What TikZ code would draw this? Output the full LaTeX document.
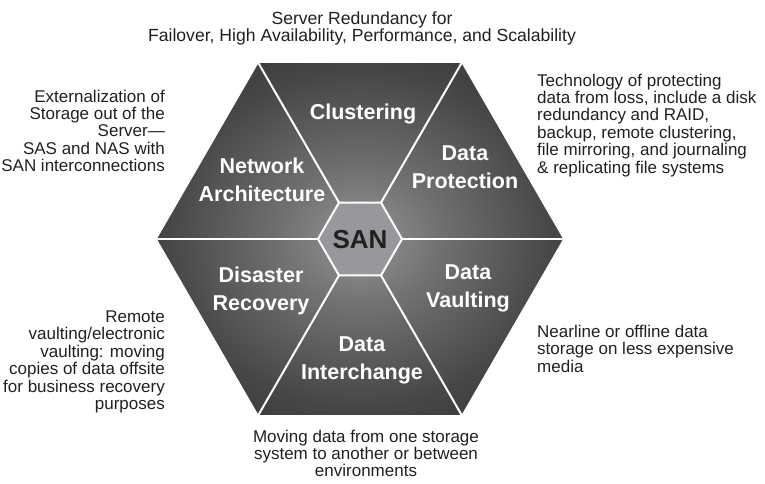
\documentclass[tikz,border=0pt]{standalone}
\usepackage{fontspec}
\setmainfont{Liberation Sans}
\usetikzlibrary{calc}
\definecolor{ink}{HTML}{231F20}
\definecolor{hexa}{HTML}{959595}
\definecolor{hexb}{HTML}{707070}
\definecolor{hexc}{HTML}{464646}
\definecolor{hexd}{HTML}{2D2D2D}
\definecolor{hexe}{HTML}{242424}
\definecolor{sanfill}{HTML}{97989B}
\pgfdeclareradialshading{hexshade}{\pgfpoint{0bp}{0bp}}{color(0bp)=(hexa); color(10bp)=(hexb); color(24bp)=(hexc); color(38bp)=(hexd); color(50bp)=(hexe)}
\tikzset{
  note/.style={font=\fontsize{17}{17.4}\selectfont, text=ink, inner sep=0pt},
  seg/.style={font=\bfseries\fontsize{21.5}{28}\selectfont, text=white, align=center, inner sep=0pt},
  spoke/.style={draw=white, line width=2pt},
}
\begin{document}
\begin{tikzpicture}[x=1pt,y=-1pt]
\useasboundingbox (0,0) rectangle (765,483);
\coordinate (c) at (360,239);
\foreach \a in {0,60,...,300} {
  \coordinate (o\a) at ($(c)+(\a:203)$);
  \coordinate (i\a) at ($(c)+(\a:42)$);
}
\path[shading=hexshade] (o0)--(o60)--(o120)--(o180)--(o240)--(o300)--cycle;
\foreach \a in {0,60,...,300} { \draw[spoke] (i\a) -- (o\a); }
\path[fill=sanfill, draw=white, line width=2pt] (i0)--(i60)--(i120)--(i180)--(i240)--(i300)--cycle;
\node[font=\bfseries\fontsize{26}{30}\selectfont, text=ink, inner sep=0pt] (san) at (360,240) {SAN};
\node[seg, anchor=base] (clu) at (363,119.5) {Clustering};
\node[seg] (dp) at (465,167) {Data\\Protection};
\node[seg] (na) at (262,180) {Network\\Architecture};
\node[seg] (dr) at (261,291) {Disaster\\Recovery};
\node[seg] (dv) at (468,288.5) {Data\\Vaulting};
\node[seg] (di) at (362,360) {Data\\Interchange};
\node[note, font=\fontsize{17.6}{17.2}\selectfont, align=center, anchor=north] (tn) at (362,11.5) {Server Redundancy for\\Failover, High Availability, Performance, and Scalability};
\node[note, align=right, anchor=north east] (ln) at (165,89.5) {Externalization of\\Storage out of the\\Server—\\SAS and NAS with\\SAN interconnections};
\node[note, align=left, anchor=north west] (rn) at (537,73.5) {Technology of protecting\\data from loss, include a disk\\redundancy and RAID,\\backup, remote clustering,\\file mirroring, and journaling\\\& replicating file systems};
\node[note, align=right, anchor=north east] (lb) at (165,310.5) {Remote\\vaulting/electronic\\vaulting: moving\\copies of data offsite\\for business recovery\\purposes};
\node[note, align=left, anchor=north west] (rb) at (537,325) {Nearline or offline data\\storage on less expensive\\media};
\node[note, align=center, anchor=north] (bn) at (366,429.5) {Moving data from one storage\\system to another or between\\environments};
\end{tikzpicture}
\end{document}
